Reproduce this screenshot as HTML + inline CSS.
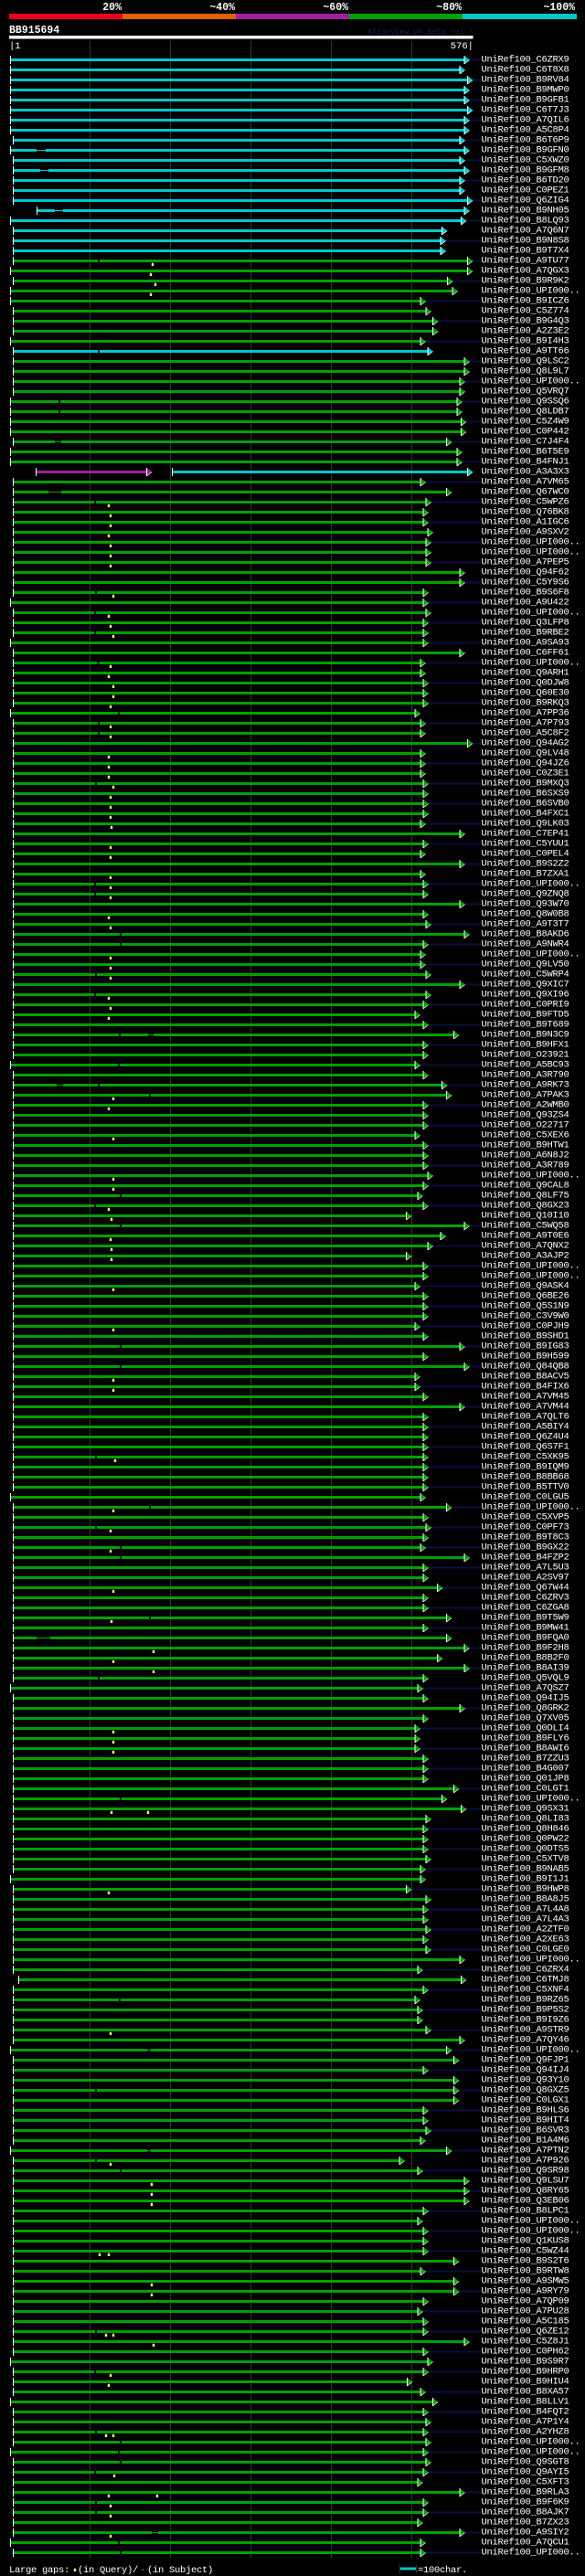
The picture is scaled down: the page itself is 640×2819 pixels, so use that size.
<!DOCTYPE html>
<html><head><meta charset="utf-8"><style>
html,body{margin:0;padding:0;background:#000}
svg{display:block}
text{font-family:"Liberation Mono","DejaVu Sans Mono",monospace}
.nm text{font-size:10.5px;letter-spacing:-0.3px;fill:#fff}
.g{stroke:#00a000;stroke-width:3;fill:none}
.c{stroke:#00c8c8;stroke-width:3;fill:none}
.p{stroke:#a020a0;stroke-width:3;fill:none}
.gl{stroke:#00a000;stroke-width:1}
.cl{stroke:#00c8c8;stroke-width:1}
</style></head><body>
<svg width="640" height="2819" viewBox="0 0 640 2819" xmlns="http://www.w3.org/2000/svg">
<defs>
<rect id="nv" x="10" y="0.5" width="516" height="2" fill="#0c0c3e"/>
<rect id="tk" x="0" y="-3" width="1" height="9" fill="#fff"/>
<g id="ag"><polygon points="0,-3 5.7,1.5 0,6" fill="#00a000"/><rect x="-0.5" y="-3" width="1" height="9" fill="#fff"/><line x1="0" y1="6" x2="5.7" y2="1.5" stroke="#fff" stroke-width="0.7"/></g>
<g id="ac"><polygon points="0,-3 5.7,1.5 0,6" fill="#00c8c8"/><rect x="-0.5" y="-3" width="1" height="9" fill="#fff"/><line x1="0" y1="6" x2="5.7" y2="1.5" stroke="#fff" stroke-width="0.7"/></g>
<g id="ap"><polygon points="0,-3 5.7,1.5 0,6" fill="#a020a0"/><rect x="-0.5" y="-3" width="1" height="9" fill="#fff"/><line x1="0" y1="6" x2="5.7" y2="1.5" stroke="#fff" stroke-width="0.7"/></g>
<g id="d"><rect width="2" height="3" fill="#000"/><rect y="1" width="2" height="1" fill="#1a1a50"/></g>
<path id="y" d="M-1.2 7h2.4v-2.4l-1.2-1.4-1.2 1.4z" fill="#ffff80"/>
</defs>
<rect width="640" height="2819" fill="#000"/>
<!-- header -->
<g font-weight="bold" font-size="11.5" fill="#fff" text-anchor="end">
<text x="133" y="11">20%</text><text x="257" y="11">~40%</text><text x="381" y="11">~60%</text><text x="505" y="11">~80%</text><text x="629" y="11">~100%</text>
</g>
<rect x="10" y="15" width="124" height="6" fill="#f00020"/>
<rect x="134" y="15" width="124" height="6" fill="#e06000"/>
<rect x="258" y="15" width="124" height="6" fill="#a020a0"/>
<rect x="382" y="15" width="124" height="6" fill="#00a000"/>
<rect x="506" y="15" width="125" height="6" fill="#00c8c8"/>
<text x="10" y="36" font-weight="bold" font-size="11.5" fill="#fff">BB915694</text>
<text x="402" y="37" font-size="8.4" fill="#1c1c5c">AlignView.pm Beta rel.7</text>
<rect x="10" y="39" width="507.5" height="3.5" fill="#fff"/>
<text x="10" y="53" font-size="10.5" fill="#fff">|1</text>
<text x="518" y="53" font-size="10.5" fill="#fff" text-anchor="end">576|</text>
<g fill="#3a3a12">
<rect x="98" y="45" width="1" height="2755"/><rect x="186" y="45" width="1" height="2755"/><rect x="274" y="45" width="1" height="2755"/><rect x="362" y="45" width="1" height="2755"/><rect x="450" y="45" width="1" height="2755"/>
</g>
<g class="nm">
<g transform="translate(0,64)"><use href="#nv"/><path class="c" d="M11 1.5H508"/><use href="#tk" x="11"/><use href="#ac" x="508"/><text x="526.5" y="3.6">UniRef100_C6ZRX9</text></g>
<g transform="translate(0,75)"><path class="c" d="M11 1.5H503"/><use href="#tk" x="11"/><use href="#ac" x="503"/><text x="526.5" y="3.6">UniRef100_C6T8X8</text></g>
<g transform="translate(0,86)"><use href="#nv"/><path class="c" d="M11 1.5H511.5"/><use href="#tk" x="11"/><use href="#ac" x="511.5"/><text x="526.5" y="3.6">UniRef100_B9RV84</text></g>
<g transform="translate(0,97)"><path class="c" d="M11 1.5H508"/><use href="#tk" x="11"/><use href="#ac" x="508"/><text x="526.5" y="3.6">UniRef100_B9MWP0</text></g>
<g transform="translate(0,108)"><use href="#nv"/><path class="c" d="M11 1.5H508"/><use href="#tk" x="11"/><use href="#ac" x="508"/><text x="526.5" y="3.6">UniRef100_B9GFB1</text></g>
<g transform="translate(0,119)"><path class="c" d="M11 1.5H511.5"/><use href="#tk" x="11"/><use href="#ac" x="511.5"/><text x="526.5" y="3.6">UniRef100_C6T7J3</text></g>
<g transform="translate(0,130)"><use href="#nv"/><path class="c" d="M11 1.5H508"/><use href="#tk" x="11"/><use href="#ac" x="508"/><text x="526.5" y="3.6">UniRef100_A7QIL6</text></g>
<g transform="translate(0,141)"><path class="c" d="M11 1.5H508"/><use href="#tk" x="11"/><use href="#ac" x="508"/><text x="526.5" y="3.6">UniRef100_A5C8P4</text></g>
<g transform="translate(0,152)"><use href="#nv"/><path class="c" d="M14 1.5H503"/><use href="#tk" x="14"/><use href="#ac" x="503"/><text x="526.5" y="3.6">UniRef100_B6T6P9</text></g>
<g transform="translate(0,163)"><path class="c" d="M11 1.5H508"/><rect x="40" width="10" height="3"/><path class="cl" d="M40 1.5H50"/><use href="#tk" x="11"/><use href="#ac" x="508"/><text x="526.5" y="3.6">UniRef100_B9GFN0</text></g>
<g transform="translate(0,174)"><use href="#nv"/><path class="c" d="M14 1.5H503"/><use href="#tk" x="14"/><use href="#ac" x="503"/><text x="526.5" y="3.6">UniRef100_C5XWZ0</text></g>
<g transform="translate(0,185)"><path class="c" d="M14 1.5H508"/><rect x="44" width="9" height="3"/><path class="cl" d="M44 1.5H53"/><use href="#tk" x="14"/><use href="#ac" x="508"/><text x="526.5" y="3.6">UniRef100_B9GFM8</text></g>
<g transform="translate(0,196)"><use href="#nv"/><path class="c" d="M14 1.5H503"/><use href="#tk" x="14"/><use href="#ac" x="503"/><text x="526.5" y="3.6">UniRef100_B6TD20</text></g>
<g transform="translate(0,207)"><path class="c" d="M14 1.5H503"/><use href="#tk" x="14"/><use href="#ac" x="503"/><text x="526.5" y="3.6">UniRef100_C0PEZ1</text></g>
<g transform="translate(0,218)"><use href="#nv"/><path class="c" d="M14 1.5H511.5"/><use href="#tk" x="14"/><use href="#ac" x="511.5"/><text x="526.5" y="3.6">UniRef100_Q6ZIG4</text></g>
<g transform="translate(0,229)"><path class="c" d="M40 1.5H508"/><rect x="60" width="9" height="3"/><path class="cl" d="M60 1.5H69"/><use href="#tk" x="40"/><use href="#ac" x="508"/><text x="526.5" y="3.6">UniRef100_B9NH05</text></g>
<g transform="translate(0,240)"><use href="#nv"/><path class="c" d="M11 1.5H504.5"/><use href="#tk" x="11"/><use href="#ac" x="504.5"/><text x="526.5" y="3.6">UniRef100_B8LQ93</text></g>
<g transform="translate(0,251)"><path class="c" d="M14 1.5H483.5"/><use href="#tk" x="14"/><use href="#ac" x="483.5"/><text x="526.5" y="3.6">UniRef100_A7Q6N7</text></g>
<g transform="translate(0,262)"><use href="#nv"/><path class="c" d="M14 1.5H482"/><use href="#tk" x="14"/><use href="#ac" x="482"/><text x="526.5" y="3.6">UniRef100_B9N8S8</text></g>
<g transform="translate(0,273)"><path class="c" d="M14 1.5H482"/><use href="#tk" x="14"/><use href="#ac" x="482"/><text x="526.5" y="3.6">UniRef100_B9T7X4</text></g>
<g transform="translate(0,284)"><use href="#nv"/><path class="g" d="M14 1.5H511.5"/><use href="#d" x="107"/><use href="#tk" x="14"/><use href="#ag" x="511.5"/><use href="#y" x="167"/><text x="526.5" y="3.6">UniRef100_A9TU77</text></g>
<g transform="translate(0,295)"><path class="g" d="M11 1.5H511.5"/><use href="#tk" x="11"/><use href="#ag" x="511.5"/><use href="#y" x="165"/><text x="526.5" y="3.6">UniRef100_A7QGX3</text></g>
<g transform="translate(0,306)"><use href="#nv"/><path class="g" d="M14 1.5H489.5"/><use href="#tk" x="14"/><use href="#ag" x="489.5"/><use href="#y" x="170"/><text x="526.5" y="3.6">UniRef100_B9R9K2</text></g>
<g transform="translate(0,317)"><path class="g" d="M11 1.5H495"/><use href="#tk" x="11"/><use href="#ag" x="495"/><use href="#y" x="165"/><text x="526.5" y="3.6">UniRef100_UPI000..</text></g>
<g transform="translate(0,328)"><use href="#nv"/><path class="g" d="M11 1.5H460"/><use href="#tk" x="11"/><use href="#ag" x="460"/><text x="526.5" y="3.6">UniRef100_B9ICZ6</text></g>
<g transform="translate(0,339)"><path class="g" d="M14 1.5H466"/><use href="#tk" x="14"/><use href="#ag" x="466"/><text x="526.5" y="3.6">UniRef100_C5Z774</text></g>
<g transform="translate(0,350)"><use href="#nv"/><path class="g" d="M14 1.5H473.5"/><use href="#tk" x="14"/><use href="#ag" x="473.5"/><text x="526.5" y="3.6">UniRef100_B9G4Q3</text></g>
<g transform="translate(0,361)"><path class="g" d="M14 1.5H473.5"/><use href="#tk" x="14"/><use href="#ag" x="473.5"/><text x="526.5" y="3.6">UniRef100_A2Z3E2</text></g>
<g transform="translate(0,372)"><use href="#nv"/><path class="g" d="M11 1.5H460"/><use href="#tk" x="11"/><use href="#ag" x="460"/><text x="526.5" y="3.6">UniRef100_B9I4H3</text></g>
<g transform="translate(0,383)"><path class="c" d="M14 1.5H468"/><use href="#d" x="107"/><use href="#tk" x="14"/><use href="#ac" x="468"/><text x="526.5" y="3.6">UniRef100_A9TT66</text></g>
<g transform="translate(0,394)"><use href="#nv"/><path class="g" d="M14 1.5H508"/><use href="#tk" x="14"/><use href="#ag" x="508"/><text x="526.5" y="3.6">UniRef100_Q9LSC2</text></g>
<g transform="translate(0,405)"><path class="g" d="M14 1.5H508"/><use href="#tk" x="14"/><use href="#ag" x="508"/><text x="526.5" y="3.6">UniRef100_Q8L9L7</text></g>
<g transform="translate(0,416)"><use href="#nv"/><path class="g" d="M14 1.5H503"/><use href="#tk" x="14"/><use href="#ag" x="503"/><text x="526.5" y="3.6">UniRef100_UPI000..</text></g>
<g transform="translate(0,427)"><path class="g" d="M14 1.5H503"/><use href="#tk" x="14"/><use href="#ag" x="503"/><text x="526.5" y="3.6">UniRef100_Q5VRQ7</text></g>
<g transform="translate(0,438)"><use href="#nv"/><path class="g" d="M11 1.5H500"/><use href="#d" x="64"/><use href="#tk" x="11"/><use href="#ag" x="500"/><text x="526.5" y="3.6">UniRef100_Q9SSQ6</text></g>
<g transform="translate(0,449)"><path class="g" d="M11 1.5H500"/><use href="#d" x="64"/><use href="#tk" x="11"/><use href="#ag" x="500"/><text x="526.5" y="3.6">UniRef100_Q8LDB7</text></g>
<g transform="translate(0,460)"><use href="#nv"/><path class="g" d="M11 1.5H504.5"/><use href="#tk" x="11"/><use href="#ag" x="504.5"/><text x="526.5" y="3.6">UniRef100_C5Z4W9</text></g>
<g transform="translate(0,471)"><path class="g" d="M11 1.5H504.5"/><use href="#tk" x="11"/><use href="#ag" x="504.5"/><text x="526.5" y="3.6">UniRef100_C0P442</text></g>
<g transform="translate(0,482)"><use href="#nv"/><path class="g" d="M14 1.5H488.5"/><rect x="60" width="7" height="3"/><path class="gl" d="M60 1.5H67"/><use href="#tk" x="14"/><use href="#ag" x="488.5"/><text x="526.5" y="3.6">UniRef100_C7J4F4</text></g>
<g transform="translate(0,493)"><path class="g" d="M11 1.5H500"/><use href="#tk" x="11"/><use href="#ag" x="500"/><text x="526.5" y="3.6">UniRef100_B6T5E9</text></g>
<g transform="translate(0,504)"><use href="#nv"/><path class="g" d="M11 1.5H500"/><use href="#tk" x="11"/><use href="#ag" x="500"/><text x="526.5" y="3.6">UniRef100_B4FNJ1</text></g>
<g transform="translate(0,515)"><path class="p" d="M39 1.5H160.5"/><use href="#tk" x="39"/><use href="#ap" x="160.5"/><path class="c" d="M188 1.5H511.5"/><use href="#tk" x="188"/><use href="#ac" x="511.5"/><text x="526.5" y="3.6">UniRef100_A3A3X3</text></g>
<g transform="translate(0,526)"><use href="#nv"/><path class="g" d="M14 1.5H460"/><use href="#tk" x="14"/><use href="#ag" x="460"/><text x="526.5" y="3.6">UniRef100_A7VM65</text></g>
<g transform="translate(0,537)"><path class="g" d="M14 1.5H488.5"/><rect x="53" width="14" height="3"/><path class="gl" d="M53 1.5H67"/><use href="#tk" x="14"/><use href="#ag" x="488.5"/><text x="526.5" y="3.6">UniRef100_Q67WC0</text></g>
<g transform="translate(0,548)"><use href="#nv"/><path class="g" d="M14 1.5H466"/><use href="#d" x="103"/><use href="#tk" x="14"/><use href="#ag" x="466"/><use href="#y" x="119"/><text x="526.5" y="3.6">UniRef100_C5WPZ6</text></g>
<g transform="translate(0,559)"><path class="g" d="M14 1.5H463"/><use href="#tk" x="14"/><use href="#ag" x="463"/><use href="#y" x="121"/><text x="526.5" y="3.6">UniRef100_Q76BK8</text></g>
<g transform="translate(0,570)"><use href="#nv"/><path class="g" d="M14 1.5H463"/><use href="#tk" x="14"/><use href="#ag" x="463"/><use href="#y" x="121"/><text x="526.5" y="3.6">UniRef100_A1IGC6</text></g>
<g transform="translate(0,581)"><path class="g" d="M14 1.5H468"/><use href="#tk" x="14"/><use href="#ag" x="468"/><use href="#y" x="119"/><text x="526.5" y="3.6">UniRef100_A9SXV2</text></g>
<g transform="translate(0,592)"><use href="#nv"/><path class="g" d="M14 1.5H466"/><use href="#tk" x="14"/><use href="#ag" x="466"/><use href="#y" x="121"/><text x="526.5" y="3.6">UniRef100_UPI000..</text></g>
<g transform="translate(0,603)"><path class="g" d="M14 1.5H466"/><use href="#tk" x="14"/><use href="#ag" x="466"/><use href="#y" x="121"/><text x="526.5" y="3.6">UniRef100_UPI000..</text></g>
<g transform="translate(0,614)"><use href="#nv"/><path class="g" d="M14 1.5H466"/><use href="#tk" x="14"/><use href="#ag" x="466"/><use href="#y" x="121"/><text x="526.5" y="3.6">UniRef100_A7PEP5</text></g>
<g transform="translate(0,625)"><path class="g" d="M14 1.5H503"/><use href="#tk" x="14"/><use href="#ag" x="503"/><text x="526.5" y="3.6">UniRef100_Q94F62</text></g>
<g transform="translate(0,636)"><use href="#nv"/><path class="g" d="M14 1.5H503"/><use href="#tk" x="14"/><use href="#ag" x="503"/><text x="526.5" y="3.6">UniRef100_C5Y9S6</text></g>
<g transform="translate(0,647)"><path class="g" d="M14 1.5H463"/><use href="#d" x="104"/><use href="#tk" x="14"/><use href="#ag" x="463"/><use href="#y" x="124"/><text x="526.5" y="3.6">UniRef100_B9S6F8</text></g>
<g transform="translate(0,658)"><use href="#nv"/><path class="g" d="M11 1.5H463"/><use href="#tk" x="11"/><use href="#ag" x="463"/><text x="526.5" y="3.6">UniRef100_A9U422</text></g>
<g transform="translate(0,669)"><path class="g" d="M14 1.5H466"/><use href="#d" x="103"/><use href="#tk" x="14"/><use href="#ag" x="466"/><use href="#y" x="119"/><text x="526.5" y="3.6">UniRef100_UPI000..</text></g>
<g transform="translate(0,680)"><use href="#nv"/><path class="g" d="M14 1.5H463"/><use href="#tk" x="14"/><use href="#ag" x="463"/><use href="#y" x="121"/><text x="526.5" y="3.6">UniRef100_Q3LFP8</text></g>
<g transform="translate(0,691)"><path class="g" d="M14 1.5H463"/><use href="#d" x="103"/><use href="#tk" x="14"/><use href="#ag" x="463"/><use href="#y" x="124"/><text x="526.5" y="3.6">UniRef100_B9RBE2</text></g>
<g transform="translate(0,702)"><use href="#nv"/><path class="g" d="M11 1.5H463"/><use href="#tk" x="11"/><use href="#ag" x="463"/><text x="526.5" y="3.6">UniRef100_A9SA93</text></g>
<g transform="translate(0,713)"><path class="g" d="M14 1.5H503"/><use href="#tk" x="14"/><use href="#ag" x="503"/><text x="526.5" y="3.6">UniRef100_C6FF61</text></g>
<g transform="translate(0,724)"><use href="#nv"/><path class="g" d="M14 1.5H460"/><rect x="106" width="3" height="3"/><path class="gl" d="M106 1.5H109"/><use href="#tk" x="14"/><use href="#ag" x="460"/><use href="#y" x="121"/><text x="526.5" y="3.6">UniRef100_UPI000..</text></g>
<g transform="translate(0,735)"><path class="g" d="M14 1.5H460"/><use href="#tk" x="14"/><use href="#ag" x="460"/><use href="#y" x="119"/><text x="526.5" y="3.6">UniRef100_Q9ARH1</text></g>
<g transform="translate(0,746)"><use href="#nv"/><path class="g" d="M14 1.5H463"/><use href="#tk" x="14"/><use href="#ag" x="463"/><use href="#y" x="124"/><text x="526.5" y="3.6">UniRef100_Q0DJW8</text></g>
<g transform="translate(0,757)"><path class="g" d="M14 1.5H463"/><use href="#tk" x="14"/><use href="#ag" x="463"/><use href="#y" x="124"/><text x="526.5" y="3.6">UniRef100_Q60E30</text></g>
<g transform="translate(0,768)"><use href="#nv"/><path class="g" d="M14 1.5H463"/><use href="#tk" x="14"/><use href="#ag" x="463"/><use href="#y" x="121"/><text x="526.5" y="3.6">UniRef100_B9RKQ3</text></g>
<g transform="translate(0,779)"><path class="g" d="M11 1.5H454"/><use href="#d" x="129"/><use href="#tk" x="11"/><use href="#ag" x="454"/><text x="526.5" y="3.6">UniRef100_A7PP36</text></g>
<g transform="translate(0,790)"><use href="#nv"/><path class="g" d="M14 1.5H460"/><use href="#d" x="107"/><use href="#tk" x="14"/><use href="#ag" x="460"/><use href="#y" x="121"/><text x="526.5" y="3.6">UniRef100_A7P793</text></g>
<g transform="translate(0,801)"><path class="g" d="M14 1.5H460"/><use href="#d" x="107"/><use href="#tk" x="14"/><use href="#ag" x="460"/><use href="#y" x="121"/><text x="526.5" y="3.6">UniRef100_A5C8F2</text></g>
<g transform="translate(0,812)"><use href="#nv"/><path class="g" d="M14 1.5H511.5"/><use href="#tk" x="14"/><use href="#ag" x="511.5"/><text x="526.5" y="3.6">UniRef100_Q94AG2</text></g>
<g transform="translate(0,823)"><path class="g" d="M14 1.5H460"/><use href="#tk" x="14"/><use href="#ag" x="460"/><use href="#y" x="119"/><text x="526.5" y="3.6">UniRef100_Q9LV48</text></g>
<g transform="translate(0,834)"><use href="#nv"/><path class="g" d="M14 1.5H460"/><use href="#tk" x="14"/><use href="#ag" x="460"/><use href="#y" x="119"/><text x="526.5" y="3.6">UniRef100_Q94JZ6</text></g>
<g transform="translate(0,845)"><path class="g" d="M14 1.5H460"/><use href="#tk" x="14"/><use href="#ag" x="460"/><use href="#y" x="119"/><text x="526.5" y="3.6">UniRef100_C0Z3E1</text></g>
<g transform="translate(0,856)"><use href="#nv"/><path class="g" d="M14 1.5H463"/><use href="#d" x="104"/><use href="#tk" x="14"/><use href="#ag" x="463"/><use href="#y" x="124"/><text x="526.5" y="3.6">UniRef100_B9MXQ3</text></g>
<g transform="translate(0,867)"><path class="g" d="M14 1.5H463"/><use href="#tk" x="14"/><use href="#ag" x="463"/><use href="#y" x="121"/><text x="526.5" y="3.6">UniRef100_B6SXS9</text></g>
<g transform="translate(0,878)"><use href="#nv"/><path class="g" d="M14 1.5H463"/><use href="#tk" x="14"/><use href="#ag" x="463"/><use href="#y" x="121"/><text x="526.5" y="3.6">UniRef100_B6SVB0</text></g>
<g transform="translate(0,889)"><path class="g" d="M14 1.5H463"/><use href="#tk" x="14"/><use href="#ag" x="463"/><use href="#y" x="121"/><text x="526.5" y="3.6">UniRef100_B4FXC1</text></g>
<g transform="translate(0,900)"><use href="#nv"/><path class="g" d="M14 1.5H460"/><use href="#tk" x="14"/><use href="#ag" x="460"/><use href="#y" x="122"/><text x="526.5" y="3.6">UniRef100_Q9LK03</text></g>
<g transform="translate(0,911)"><path class="g" d="M14 1.5H503"/><use href="#tk" x="14"/><use href="#ag" x="503"/><text x="526.5" y="3.6">UniRef100_C7EP41</text></g>
<g transform="translate(0,922)"><use href="#nv"/><path class="g" d="M14 1.5H463"/><use href="#tk" x="14"/><use href="#ag" x="463"/><use href="#y" x="121"/><text x="526.5" y="3.6">UniRef100_C5YUU1</text></g>
<g transform="translate(0,933)"><path class="g" d="M14 1.5H460"/><use href="#tk" x="14"/><use href="#ag" x="460"/><use href="#y" x="121"/><text x="526.5" y="3.6">UniRef100_C0PEL4</text></g>
<g transform="translate(0,944)"><use href="#nv"/><path class="g" d="M14 1.5H503"/><use href="#tk" x="14"/><use href="#ag" x="503"/><text x="526.5" y="3.6">UniRef100_B9S2Z2</text></g>
<g transform="translate(0,955)"><path class="g" d="M14 1.5H460"/><use href="#tk" x="14"/><use href="#ag" x="460"/><use href="#y" x="121"/><text x="526.5" y="3.6">UniRef100_B7ZXA1</text></g>
<g transform="translate(0,966)"><use href="#nv"/><path class="g" d="M14 1.5H463"/><use href="#d" x="103"/><use href="#tk" x="14"/><use href="#ag" x="463"/><use href="#y" x="121"/><text x="526.5" y="3.6">UniRef100_UPI000..</text></g>
<g transform="translate(0,977)"><path class="g" d="M14 1.5H463"/><use href="#d" x="103"/><use href="#tk" x="14"/><use href="#ag" x="463"/><use href="#y" x="121"/><text x="526.5" y="3.6">UniRef100_Q9ZNQ8</text></g>
<g transform="translate(0,988)"><use href="#nv"/><path class="g" d="M14 1.5H503"/><use href="#tk" x="14"/><use href="#ag" x="503"/><text x="526.5" y="3.6">UniRef100_Q93W70</text></g>
<g transform="translate(0,999)"><path class="g" d="M14 1.5H463"/><use href="#tk" x="14"/><use href="#ag" x="463"/><use href="#y" x="119"/><text x="526.5" y="3.6">UniRef100_Q8W0B8</text></g>
<g transform="translate(0,1010)"><use href="#nv"/><path class="g" d="M14 1.5H466"/><use href="#tk" x="14"/><use href="#ag" x="466"/><use href="#y" x="121"/><text x="526.5" y="3.6">UniRef100_A9T3T7</text></g>
<g transform="translate(0,1021)"><path class="g" d="M14 1.5H508"/><use href="#d" x="131"/><use href="#tk" x="14"/><use href="#ag" x="508"/><text x="526.5" y="3.6">UniRef100_B8AKD6</text></g>
<g transform="translate(0,1032)"><use href="#nv"/><path class="g" d="M14 1.5H463"/><use href="#d" x="131"/><use href="#tk" x="14"/><use href="#ag" x="463"/><text x="526.5" y="3.6">UniRef100_A9NWR4</text></g>
<g transform="translate(0,1043)"><path class="g" d="M14 1.5H460"/><use href="#tk" x="14"/><use href="#ag" x="460"/><use href="#y" x="121"/><text x="526.5" y="3.6">UniRef100_UPI000..</text></g>
<g transform="translate(0,1054)"><use href="#nv"/><path class="g" d="M14 1.5H460"/><use href="#tk" x="14"/><use href="#ag" x="460"/><use href="#y" x="121"/><text x="526.5" y="3.6">UniRef100_Q9LV50</text></g>
<g transform="translate(0,1065)"><path class="g" d="M14 1.5H466"/><use href="#d" x="104"/><use href="#tk" x="14"/><use href="#ag" x="466"/><use href="#y" x="121"/><text x="526.5" y="3.6">UniRef100_C5WRP4</text></g>
<g transform="translate(0,1076)"><use href="#nv"/><path class="g" d="M14 1.5H503"/><use href="#tk" x="14"/><use href="#ag" x="503"/><text x="526.5" y="3.6">UniRef100_Q9XIC7</text></g>
<g transform="translate(0,1087)"><path class="g" d="M14 1.5H466"/><use href="#d" x="103"/><use href="#tk" x="14"/><use href="#ag" x="466"/><use href="#y" x="119"/><text x="526.5" y="3.6">UniRef100_Q9XI96</text></g>
<g transform="translate(0,1098)"><use href="#nv"/><path class="g" d="M14 1.5H463"/><use href="#tk" x="14"/><use href="#ag" x="463"/><use href="#y" x="121"/><text x="526.5" y="3.6">UniRef100_C0PRI9</text></g>
<g transform="translate(0,1109)"><path class="g" d="M14 1.5H454"/><use href="#tk" x="14"/><use href="#ag" x="454"/><use href="#y" x="119"/><text x="526.5" y="3.6">UniRef100_B9FTD5</text></g>
<g transform="translate(0,1120)"><use href="#nv"/><path class="g" d="M14 1.5H463"/><use href="#tk" x="14"/><use href="#ag" x="463"/><text x="526.5" y="3.6">UniRef100_B9T689</text></g>
<g transform="translate(0,1131)"><path class="g" d="M14 1.5H496.5"/><use href="#d" x="130"/><rect x="162" width="6" height="3"/><path class="gl" d="M162 1.5H168"/><use href="#tk" x="14"/><use href="#ag" x="496.5"/><text x="526.5" y="3.6">UniRef100_B9N3C9</text></g>
<g transform="translate(0,1142)"><use href="#nv"/><path class="g" d="M14 1.5H463"/><use href="#tk" x="14"/><use href="#ag" x="463"/><text x="526.5" y="3.6">UniRef100_B9HFX1</text></g>
<g transform="translate(0,1153)"><path class="g" d="M14 1.5H463"/><use href="#tk" x="14"/><use href="#ag" x="463"/><text x="526.5" y="3.6">UniRef100_O23921</text></g>
<g transform="translate(0,1164)"><use href="#nv"/><path class="g" d="M11 1.5H454"/><use href="#d" x="129"/><use href="#tk" x="11"/><use href="#ag" x="454"/><text x="526.5" y="3.6">UniRef100_A5BC93</text></g>
<g transform="translate(0,1175)"><path class="g" d="M14 1.5H463"/><use href="#tk" x="14"/><use href="#ag" x="463"/><text x="526.5" y="3.6">UniRef100_A3R790</text></g>
<g transform="translate(0,1186)"><use href="#nv"/><path class="g" d="M14 1.5H483.5"/><rect x="62" width="7" height="3"/><path class="gl" d="M62 1.5H69"/><use href="#d" x="107"/><use href="#tk" x="14"/><use href="#ag" x="483.5"/><text x="526.5" y="3.6">UniRef100_A9RK73</text></g>
<g transform="translate(0,1197)"><path class="g" d="M14 1.5H488.5"/><use href="#d" x="163"/><use href="#tk" x="14"/><use href="#ag" x="488.5"/><use href="#y" x="124"/><text x="526.5" y="3.6">UniRef100_A7PAK3</text></g>
<g transform="translate(0,1208)"><use href="#nv"/><path class="g" d="M14 1.5H463"/><use href="#tk" x="14"/><use href="#ag" x="463"/><use href="#y" x="119"/><text x="526.5" y="3.6">UniRef100_A2WMB0</text></g>
<g transform="translate(0,1219)"><path class="g" d="M14 1.5H463"/><use href="#tk" x="14"/><use href="#ag" x="463"/><text x="526.5" y="3.6">UniRef100_Q93ZS4</text></g>
<g transform="translate(0,1230)"><use href="#nv"/><path class="g" d="M14 1.5H463"/><use href="#tk" x="14"/><use href="#ag" x="463"/><text x="526.5" y="3.6">UniRef100_O22717</text></g>
<g transform="translate(0,1241)"><path class="g" d="M14 1.5H454"/><use href="#tk" x="14"/><use href="#ag" x="454"/><use href="#y" x="124"/><text x="526.5" y="3.6">UniRef100_C5XEX6</text></g>
<g transform="translate(0,1252)"><use href="#nv"/><path class="g" d="M14 1.5H463"/><use href="#tk" x="14"/><use href="#ag" x="463"/><text x="526.5" y="3.6">UniRef100_B9HTW1</text></g>
<g transform="translate(0,1263)"><path class="g" d="M14 1.5H463"/><use href="#tk" x="14"/><use href="#ag" x="463"/><text x="526.5" y="3.6">UniRef100_A6N8J2</text></g>
<g transform="translate(0,1274)"><use href="#nv"/><path class="g" d="M14 1.5H463"/><use href="#tk" x="14"/><use href="#ag" x="463"/><text x="526.5" y="3.6">UniRef100_A3R789</text></g>
<g transform="translate(0,1285)"><path class="g" d="M14 1.5H468"/><use href="#tk" x="14"/><use href="#ag" x="468"/><use href="#y" x="124"/><text x="526.5" y="3.6">UniRef100_UPI000..</text></g>
<g transform="translate(0,1296)"><use href="#nv"/><path class="g" d="M14 1.5H463"/><use href="#tk" x="14"/><use href="#ag" x="463"/><use href="#y" x="124"/><text x="526.5" y="3.6">UniRef100_Q9CAL8</text></g>
<g transform="translate(0,1307)"><path class="g" d="M14 1.5H457"/><use href="#d" x="131"/><use href="#tk" x="14"/><use href="#ag" x="457"/><text x="526.5" y="3.6">UniRef100_Q8LF75</text></g>
<g transform="translate(0,1318)"><use href="#nv"/><path class="g" d="M14 1.5H463"/><use href="#d" x="103"/><use href="#tk" x="14"/><use href="#ag" x="463"/><use href="#y" x="119"/><text x="526.5" y="3.6">UniRef100_Q8GX23</text></g>
<g transform="translate(0,1329)"><path class="g" d="M14 1.5H444.5"/><use href="#tk" x="14"/><use href="#ag" x="444.5"/><use href="#y" x="122"/><text x="526.5" y="3.6">UniRef100_Q10I10</text></g>
<g transform="translate(0,1340)"><use href="#nv"/><path class="g" d="M14 1.5H508"/><use href="#d" x="131"/><use href="#tk" x="14"/><use href="#ag" x="508"/><text x="526.5" y="3.6">UniRef100_C5WQ58</text></g>
<g transform="translate(0,1351)"><path class="g" d="M14 1.5H482"/><use href="#tk" x="14"/><use href="#ag" x="482"/><use href="#y" x="121"/><text x="526.5" y="3.6">UniRef100_A9T0E6</text></g>
<g transform="translate(0,1362)"><use href="#nv"/><path class="g" d="M14 1.5H468"/><use href="#tk" x="14"/><use href="#ag" x="468"/><use href="#y" x="122"/><text x="526.5" y="3.6">UniRef100_A7QNX2</text></g>
<g transform="translate(0,1373)"><path class="g" d="M14 1.5H444.5"/><use href="#tk" x="14"/><use href="#ag" x="444.5"/><use href="#y" x="122"/><text x="526.5" y="3.6">UniRef100_A3AJP2</text></g>
<g transform="translate(0,1384)"><use href="#nv"/><path class="g" d="M14 1.5H463"/><use href="#tk" x="14"/><use href="#ag" x="463"/><text x="526.5" y="3.6">UniRef100_UPI000..</text></g>
<g transform="translate(0,1395)"><path class="g" d="M14 1.5H463"/><use href="#tk" x="14"/><use href="#ag" x="463"/><text x="526.5" y="3.6">UniRef100_UPI000..</text></g>
<g transform="translate(0,1406)"><use href="#nv"/><path class="g" d="M14 1.5H454"/><use href="#tk" x="14"/><use href="#ag" x="454"/><use href="#y" x="124"/><text x="526.5" y="3.6">UniRef100_Q9ASK4</text></g>
<g transform="translate(0,1417)"><path class="g" d="M14 1.5H463"/><use href="#tk" x="14"/><use href="#ag" x="463"/><text x="526.5" y="3.6">UniRef100_Q6BE26</text></g>
<g transform="translate(0,1428)"><use href="#nv"/><path class="g" d="M14 1.5H463"/><use href="#tk" x="14"/><use href="#ag" x="463"/><text x="526.5" y="3.6">UniRef100_Q5S1N9</text></g>
<g transform="translate(0,1439)"><path class="g" d="M14 1.5H463"/><use href="#tk" x="14"/><use href="#ag" x="463"/><text x="526.5" y="3.6">UniRef100_C3V9W0</text></g>
<g transform="translate(0,1450)"><use href="#nv"/><path class="g" d="M14 1.5H454"/><use href="#tk" x="14"/><use href="#ag" x="454"/><use href="#y" x="124"/><text x="526.5" y="3.6">UniRef100_C0PJH9</text></g>
<g transform="translate(0,1461)"><path class="g" d="M14 1.5H463"/><use href="#tk" x="14"/><use href="#ag" x="463"/><text x="526.5" y="3.6">UniRef100_B9SHD1</text></g>
<g transform="translate(0,1472)"><use href="#nv"/><path class="g" d="M14 1.5H503"/><use href="#d" x="131"/><use href="#tk" x="14"/><use href="#ag" x="503"/><text x="526.5" y="3.6">UniRef100_B9IG83</text></g>
<g transform="translate(0,1483)"><path class="g" d="M14 1.5H463"/><use href="#tk" x="14"/><use href="#ag" x="463"/><text x="526.5" y="3.6">UniRef100_B9H599</text></g>
<g transform="translate(0,1494)"><use href="#nv"/><path class="g" d="M14 1.5H508"/><use href="#d" x="131"/><use href="#tk" x="14"/><use href="#ag" x="508"/><text x="526.5" y="3.6">UniRef100_Q84QB8</text></g>
<g transform="translate(0,1505)"><path class="g" d="M14 1.5H454"/><use href="#tk" x="14"/><use href="#ag" x="454"/><use href="#y" x="124"/><text x="526.5" y="3.6">UniRef100_B8ACV5</text></g>
<g transform="translate(0,1516)"><use href="#nv"/><path class="g" d="M14 1.5H454"/><use href="#tk" x="14"/><use href="#ag" x="454"/><use href="#y" x="124"/><text x="526.5" y="3.6">UniRef100_B4FIX6</text></g>
<g transform="translate(0,1527)"><path class="g" d="M14 1.5H463"/><use href="#tk" x="14"/><use href="#ag" x="463"/><text x="526.5" y="3.6">UniRef100_A7VM45</text></g>
<g transform="translate(0,1538)"><use href="#nv"/><path class="g" d="M14 1.5H503"/><use href="#tk" x="14"/><use href="#ag" x="503"/><text x="526.5" y="3.6">UniRef100_A7VM44</text></g>
<g transform="translate(0,1549)"><path class="g" d="M14 1.5H463"/><use href="#tk" x="14"/><use href="#ag" x="463"/><text x="526.5" y="3.6">UniRef100_A7QLT6</text></g>
<g transform="translate(0,1560)"><use href="#nv"/><path class="g" d="M14 1.5H463"/><use href="#tk" x="14"/><use href="#ag" x="463"/><text x="526.5" y="3.6">UniRef100_A5BIY4</text></g>
<g transform="translate(0,1571)"><path class="g" d="M14 1.5H463"/><use href="#tk" x="14"/><use href="#ag" x="463"/><text x="526.5" y="3.6">UniRef100_Q6Z4U4</text></g>
<g transform="translate(0,1582)"><use href="#nv"/><path class="g" d="M14 1.5H463"/><use href="#tk" x="14"/><use href="#ag" x="463"/><text x="526.5" y="3.6">UniRef100_Q6S7F1</text></g>
<g transform="translate(0,1593)"><path class="g" d="M14 1.5H463"/><use href="#d" x="104"/><use href="#tk" x="14"/><use href="#ag" x="463"/><use href="#y" x="126"/><text x="526.5" y="3.6">UniRef100_C5XK95</text></g>
<g transform="translate(0,1604)"><use href="#nv"/><path class="g" d="M14 1.5H463"/><use href="#tk" x="14"/><use href="#ag" x="463"/><text x="526.5" y="3.6">UniRef100_B9IQM9</text></g>
<g transform="translate(0,1615)"><path class="g" d="M14 1.5H463"/><use href="#tk" x="14"/><use href="#ag" x="463"/><text x="526.5" y="3.6">UniRef100_B8BB68</text></g>
<g transform="translate(0,1626)"><use href="#nv"/><path class="g" d="M14 1.5H463"/><use href="#tk" x="14"/><use href="#ag" x="463"/><text x="526.5" y="3.6">UniRef100_B5TTV0</text></g>
<g transform="translate(0,1637)"><path class="g" d="M11 1.5H460"/><use href="#tk" x="11"/><use href="#ag" x="460"/><text x="526.5" y="3.6">UniRef100_C0LGU5</text></g>
<g transform="translate(0,1648)"><use href="#nv"/><path class="g" d="M14 1.5H488.5"/><use href="#d" x="163"/><use href="#tk" x="14"/><use href="#ag" x="488.5"/><use href="#y" x="124"/><text x="526.5" y="3.6">UniRef100_UPI000..</text></g>
<g transform="translate(0,1659)"><path class="g" d="M14 1.5H463"/><use href="#tk" x="14"/><use href="#ag" x="463"/><text x="526.5" y="3.6">UniRef100_C5XVP5</text></g>
<g transform="translate(0,1670)"><use href="#nv"/><path class="g" d="M14 1.5H466"/><use href="#d" x="104"/><use href="#tk" x="14"/><use href="#ag" x="466"/><use href="#y" x="121"/><text x="526.5" y="3.6">UniRef100_C0PF73</text></g>
<g transform="translate(0,1681)"><path class="g" d="M14 1.5H463"/><use href="#tk" x="14"/><use href="#ag" x="463"/><text x="526.5" y="3.6">UniRef100_B9T8C3</text></g>
<g transform="translate(0,1692)"><use href="#nv"/><path class="g" d="M14 1.5H460"/><use href="#d" x="131"/><use href="#tk" x="14"/><use href="#ag" x="460"/><use href="#y" x="121"/><text x="526.5" y="3.6">UniRef100_B9GX22</text></g>
<g transform="translate(0,1703)"><path class="g" d="M14 1.5H508"/><use href="#d" x="131"/><use href="#tk" x="14"/><use href="#ag" x="508"/><text x="526.5" y="3.6">UniRef100_B4FZP2</text></g>
<g transform="translate(0,1714)"><use href="#nv"/><path class="g" d="M14 1.5H463"/><use href="#tk" x="14"/><use href="#ag" x="463"/><text x="526.5" y="3.6">UniRef100_A7L5U3</text></g>
<g transform="translate(0,1725)"><path class="g" d="M14 1.5H463"/><use href="#tk" x="14"/><use href="#ag" x="463"/><text x="526.5" y="3.6">UniRef100_A2SV97</text></g>
<g transform="translate(0,1736)"><use href="#nv"/><path class="g" d="M14 1.5H478.5"/><use href="#tk" x="14"/><use href="#ag" x="478.5"/><use href="#y" x="124"/><text x="526.5" y="3.6">UniRef100_Q67W44</text></g>
<g transform="translate(0,1747)"><path class="g" d="M14 1.5H463"/><use href="#tk" x="14"/><use href="#ag" x="463"/><text x="526.5" y="3.6">UniRef100_C6ZRV3</text></g>
<g transform="translate(0,1758)"><use href="#nv"/><path class="g" d="M14 1.5H463"/><use href="#tk" x="14"/><use href="#ag" x="463"/><text x="526.5" y="3.6">UniRef100_C6ZGA8</text></g>
<g transform="translate(0,1769)"><path class="g" d="M14 1.5H488.5"/><use href="#d" x="163"/><use href="#tk" x="14"/><use href="#ag" x="488.5"/><use href="#y" x="122"/><text x="526.5" y="3.6">UniRef100_B9T5W9</text></g>
<g transform="translate(0,1780)"><use href="#nv"/><path class="g" d="M14 1.5H463"/><use href="#tk" x="14"/><use href="#ag" x="463"/><text x="526.5" y="3.6">UniRef100_B9MW41</text></g>
<g transform="translate(0,1791)"><path class="g" d="M14 1.5H488.5"/><rect x="40" width="15" height="3"/><path class="gl" d="M40 1.5H55"/><use href="#tk" x="14"/><use href="#ag" x="488.5"/><text x="526.5" y="3.6">UniRef100_B9FQA0</text></g>
<g transform="translate(0,1802)"><use href="#nv"/><path class="g" d="M14 1.5H508"/><use href="#tk" x="14"/><use href="#ag" x="508"/><use href="#y" x="168"/><text x="526.5" y="3.6">UniRef100_B9F2H8</text></g>
<g transform="translate(0,1813)"><path class="g" d="M14 1.5H478.5"/><use href="#tk" x="14"/><use href="#ag" x="478.5"/><use href="#y" x="124"/><text x="526.5" y="3.6">UniRef100_B8B2F0</text></g>
<g transform="translate(0,1824)"><use href="#nv"/><path class="g" d="M14 1.5H508"/><use href="#tk" x="14"/><use href="#ag" x="508"/><use href="#y" x="168"/><text x="526.5" y="3.6">UniRef100_B8AI39</text></g>
<g transform="translate(0,1835)"><path class="g" d="M14 1.5H463"/><use href="#d" x="107"/><use href="#tk" x="14"/><use href="#ag" x="463"/><text x="526.5" y="3.6">UniRef100_Q5VQL9</text></g>
<g transform="translate(0,1846)"><use href="#nv"/><path class="g" d="M11 1.5H457"/><use href="#tk" x="11"/><use href="#ag" x="457"/><text x="526.5" y="3.6">UniRef100_A7QSZ7</text></g>
<g transform="translate(0,1857)"><path class="g" d="M14 1.5H463"/><use href="#tk" x="14"/><use href="#ag" x="463"/><text x="526.5" y="3.6">UniRef100_Q94IJ5</text></g>
<g transform="translate(0,1868)"><use href="#nv"/><path class="g" d="M14 1.5H503"/><use href="#tk" x="14"/><use href="#ag" x="503"/><text x="526.5" y="3.6">UniRef100_Q8GRK2</text></g>
<g transform="translate(0,1879)"><path class="g" d="M14 1.5H463"/><use href="#tk" x="14"/><use href="#ag" x="463"/><text x="526.5" y="3.6">UniRef100_Q7XV05</text></g>
<g transform="translate(0,1890)"><use href="#nv"/><path class="g" d="M14 1.5H454"/><use href="#tk" x="14"/><use href="#ag" x="454"/><use href="#y" x="124"/><text x="526.5" y="3.6">UniRef100_Q0DLI4</text></g>
<g transform="translate(0,1901)"><path class="g" d="M14 1.5H454"/><use href="#tk" x="14"/><use href="#ag" x="454"/><use href="#y" x="124"/><text x="526.5" y="3.6">UniRef100_B9FLY6</text></g>
<g transform="translate(0,1912)"><use href="#nv"/><path class="g" d="M14 1.5H454"/><use href="#tk" x="14"/><use href="#ag" x="454"/><use href="#y" x="124"/><text x="526.5" y="3.6">UniRef100_B8AWI6</text></g>
<g transform="translate(0,1923)"><path class="g" d="M14 1.5H463"/><use href="#tk" x="14"/><use href="#ag" x="463"/><text x="526.5" y="3.6">UniRef100_B7ZZU3</text></g>
<g transform="translate(0,1934)"><use href="#nv"/><path class="g" d="M14 1.5H463"/><use href="#tk" x="14"/><use href="#ag" x="463"/><text x="526.5" y="3.6">UniRef100_B4G007</text></g>
<g transform="translate(0,1945)"><path class="g" d="M14 1.5H463"/><use href="#tk" x="14"/><use href="#ag" x="463"/><text x="526.5" y="3.6">UniRef100_Q01JP8</text></g>
<g transform="translate(0,1956)"><use href="#nv"/><path class="g" d="M14 1.5H496.5"/><use href="#tk" x="14"/><use href="#ag" x="496.5"/><text x="526.5" y="3.6">UniRef100_C0LGT1</text></g>
<g transform="translate(0,1967)"><path class="g" d="M14 1.5H483.5"/><use href="#d" x="131"/><use href="#tk" x="14"/><use href="#ag" x="483.5"/><text x="526.5" y="3.6">UniRef100_UPI000..</text></g>
<g transform="translate(0,1978)"><use href="#nv"/><path class="g" d="M14 1.5H504.5"/><use href="#tk" x="14"/><use href="#ag" x="504.5"/><use href="#y" x="122"/><use href="#y" x="162"/><text x="526.5" y="3.6">UniRef100_Q9SX31</text></g>
<g transform="translate(0,1989)"><path class="g" d="M14 1.5H466"/><use href="#tk" x="14"/><use href="#ag" x="466"/><text x="526.5" y="3.6">UniRef100_Q8LI83</text></g>
<g transform="translate(0,2000)"><use href="#nv"/><path class="g" d="M14 1.5H463"/><use href="#tk" x="14"/><use href="#ag" x="463"/><text x="526.5" y="3.6">UniRef100_Q8H846</text></g>
<g transform="translate(0,2011)"><path class="g" d="M14 1.5H463"/><use href="#tk" x="14"/><use href="#ag" x="463"/><text x="526.5" y="3.6">UniRef100_Q0PW22</text></g>
<g transform="translate(0,2022)"><use href="#nv"/><path class="g" d="M14 1.5H463"/><use href="#tk" x="14"/><use href="#ag" x="463"/><text x="526.5" y="3.6">UniRef100_Q0DTS5</text></g>
<g transform="translate(0,2033)"><path class="g" d="M14 1.5H466"/><use href="#tk" x="14"/><use href="#ag" x="466"/><text x="526.5" y="3.6">UniRef100_C5XTV8</text></g>
<g transform="translate(0,2044)"><use href="#nv"/><path class="g" d="M14 1.5H460"/><use href="#tk" x="14"/><use href="#ag" x="460"/><text x="526.5" y="3.6">UniRef100_B9NAB5</text></g>
<g transform="translate(0,2055)"><path class="g" d="M11 1.5H460"/><use href="#tk" x="11"/><use href="#ag" x="460"/><text x="526.5" y="3.6">UniRef100_B9I1J1</text></g>
<g transform="translate(0,2066)"><use href="#nv"/><path class="g" d="M14 1.5H444.5"/><use href="#tk" x="14"/><use href="#ag" x="444.5"/><use href="#y" x="119"/><text x="526.5" y="3.6">UniRef100_B9HWP8</text></g>
<g transform="translate(0,2077)"><path class="g" d="M14 1.5H466"/><use href="#tk" x="14"/><use href="#ag" x="466"/><text x="526.5" y="3.6">UniRef100_B8A8J5</text></g>
<g transform="translate(0,2088)"><use href="#nv"/><path class="g" d="M14 1.5H463"/><use href="#tk" x="14"/><use href="#ag" x="463"/><text x="526.5" y="3.6">UniRef100_A7L4A8</text></g>
<g transform="translate(0,2099)"><path class="g" d="M14 1.5H463"/><use href="#tk" x="14"/><use href="#ag" x="463"/><text x="526.5" y="3.6">UniRef100_A7L4A3</text></g>
<g transform="translate(0,2110)"><use href="#nv"/><path class="g" d="M14 1.5H466"/><use href="#tk" x="14"/><use href="#ag" x="466"/><text x="526.5" y="3.6">UniRef100_A2ZTF0</text></g>
<g transform="translate(0,2121)"><path class="g" d="M14 1.5H463"/><use href="#tk" x="14"/><use href="#ag" x="463"/><text x="526.5" y="3.6">UniRef100_A2XE63</text></g>
<g transform="translate(0,2132)"><use href="#nv"/><path class="g" d="M14 1.5H466"/><use href="#tk" x="14"/><use href="#ag" x="466"/><text x="526.5" y="3.6">UniRef100_C0LGE0</text></g>
<g transform="translate(0,2143)"><path class="g" d="M14 1.5H503"/><use href="#tk" x="14"/><use href="#ag" x="503"/><text x="526.5" y="3.6">UniRef100_UPI000..</text></g>
<g transform="translate(0,2154)"><use href="#nv"/><path class="g" d="M14 1.5H457"/><use href="#tk" x="14"/><use href="#ag" x="457"/><text x="526.5" y="3.6">UniRef100_C6ZRX4</text></g>
<g transform="translate(0,2165)"><path class="g" d="M20 1.5H504.5"/><use href="#tk" x="20"/><use href="#ag" x="504.5"/><text x="526.5" y="3.6">UniRef100_C6TMJ8</text></g>
<g transform="translate(0,2176)"><use href="#nv"/><path class="g" d="M14 1.5H463"/><use href="#tk" x="14"/><use href="#ag" x="463"/><text x="526.5" y="3.6">UniRef100_C5XNF4</text></g>
<g transform="translate(0,2187)"><path class="g" d="M14 1.5H454"/><use href="#d" x="130"/><use href="#tk" x="14"/><use href="#ag" x="454"/><text x="526.5" y="3.6">UniRef100_B9RZ65</text></g>
<g transform="translate(0,2198)"><use href="#nv"/><path class="g" d="M14 1.5H457"/><use href="#tk" x="14"/><use href="#ag" x="457"/><text x="526.5" y="3.6">UniRef100_B9P5S2</text></g>
<g transform="translate(0,2209)"><path class="g" d="M14 1.5H457"/><use href="#tk" x="14"/><use href="#ag" x="457"/><text x="526.5" y="3.6">UniRef100_B9I9Z6</text></g>
<g transform="translate(0,2220)"><use href="#nv"/><path class="g" d="M14 1.5H466"/><use href="#tk" x="14"/><use href="#ag" x="466"/><use href="#y" x="121"/><text x="526.5" y="3.6">UniRef100_A9STR9</text></g>
<g transform="translate(0,2231)"><path class="g" d="M14 1.5H503"/><use href="#tk" x="14"/><use href="#ag" x="503"/><text x="526.5" y="3.6">UniRef100_A7QY46</text></g>
<g transform="translate(0,2242)"><use href="#nv"/><path class="g" d="M11 1.5H488.5"/><rect x="161" width="4" height="3"/><path class="gl" d="M161 1.5H165"/><use href="#tk" x="11"/><use href="#ag" x="488.5"/><text x="526.5" y="3.6">UniRef100_UPI000..</text></g>
<g transform="translate(0,2253)"><path class="g" d="M14 1.5H496.5"/><use href="#tk" x="14"/><use href="#ag" x="496.5"/><text x="526.5" y="3.6">UniRef100_Q9FJP1</text></g>
<g transform="translate(0,2264)"><use href="#nv"/><path class="g" d="M14 1.5H463"/><use href="#tk" x="14"/><use href="#ag" x="463"/><text x="526.5" y="3.6">UniRef100_Q94IJ4</text></g>
<g transform="translate(0,2275)"><path class="g" d="M14 1.5H496.5"/><use href="#tk" x="14"/><use href="#ag" x="496.5"/><text x="526.5" y="3.6">UniRef100_Q93Y10</text></g>
<g transform="translate(0,2286)"><use href="#nv"/><path class="g" d="M14 1.5H496.5"/><use href="#d" x="104"/><use href="#tk" x="14"/><use href="#ag" x="496.5"/><text x="526.5" y="3.6">UniRef100_Q8GXZ5</text></g>
<g transform="translate(0,2297)"><path class="g" d="M14 1.5H496.5"/><use href="#tk" x="14"/><use href="#ag" x="496.5"/><text x="526.5" y="3.6">UniRef100_C0LGX1</text></g>
<g transform="translate(0,2308)"><use href="#nv"/><path class="g" d="M14 1.5H463"/><use href="#tk" x="14"/><use href="#ag" x="463"/><text x="526.5" y="3.6">UniRef100_B9HLS6</text></g>
<g transform="translate(0,2319)"><path class="g" d="M14 1.5H463"/><use href="#tk" x="14"/><use href="#ag" x="463"/><text x="526.5" y="3.6">UniRef100_B9HIT4</text></g>
<g transform="translate(0,2330)"><use href="#nv"/><path class="g" d="M14 1.5H466"/><use href="#tk" x="14"/><use href="#ag" x="466"/><text x="526.5" y="3.6">UniRef100_B6SVR3</text></g>
<g transform="translate(0,2341)"><path class="g" d="M14 1.5H460"/><use href="#tk" x="14"/><use href="#ag" x="460"/><text x="526.5" y="3.6">UniRef100_B1A4M6</text></g>
<g transform="translate(0,2352)"><use href="#nv"/><path class="g" d="M11 1.5H488.5"/><rect x="161" width="4" height="3"/><path class="gl" d="M161 1.5H165"/><use href="#tk" x="11"/><use href="#ag" x="488.5"/><text x="526.5" y="3.6">UniRef100_A7PTN2</text></g>
<g transform="translate(0,2363)"><path class="g" d="M14 1.5H437"/><use href="#d" x="104"/><use href="#tk" x="14"/><use href="#ag" x="437"/><use href="#y" x="121"/><text x="526.5" y="3.6">UniRef100_A7P926</text></g>
<g transform="translate(0,2374)"><use href="#nv"/><path class="g" d="M14 1.5H457"/><use href="#d" x="131"/><use href="#tk" x="14"/><use href="#ag" x="457"/><text x="526.5" y="3.6">UniRef100_Q9SR98</text></g>
<g transform="translate(0,2385)"><path class="g" d="M14 1.5H508"/><use href="#tk" x="14"/><use href="#ag" x="508"/><use href="#y" x="166"/><text x="526.5" y="3.6">UniRef100_Q9LSU7</text></g>
<g transform="translate(0,2396)"><use href="#nv"/><path class="g" d="M14 1.5H508"/><use href="#tk" x="14"/><use href="#ag" x="508"/><use href="#y" x="166"/><text x="526.5" y="3.6">UniRef100_Q8RY65</text></g>
<g transform="translate(0,2407)"><path class="g" d="M14 1.5H508"/><use href="#tk" x="14"/><use href="#ag" x="508"/><use href="#y" x="166"/><text x="526.5" y="3.6">UniRef100_Q3EB06</text></g>
<g transform="translate(0,2418)"><use href="#nv"/><path class="g" d="M14 1.5H463"/><use href="#tk" x="14"/><use href="#ag" x="463"/><text x="526.5" y="3.6">UniRef100_B8LPC1</text></g>
<g transform="translate(0,2429)"><path class="g" d="M14 1.5H457"/><use href="#tk" x="14"/><use href="#ag" x="457"/><text x="526.5" y="3.6">UniRef100_UPI000..</text></g>
<g transform="translate(0,2440)"><use href="#nv"/><path class="g" d="M14 1.5H463"/><use href="#tk" x="14"/><use href="#ag" x="463"/><text x="526.5" y="3.6">UniRef100_UPI000..</text></g>
<g transform="translate(0,2451)"><path class="g" d="M14 1.5H463"/><use href="#tk" x="14"/><use href="#ag" x="463"/><text x="526.5" y="3.6">UniRef100_Q1KUS8</text></g>
<g transform="translate(0,2462)"><use href="#nv"/><path class="g" d="M14 1.5H463"/><use href="#tk" x="14"/><use href="#ag" x="463"/><use href="#y" x="109"/><use href="#y" x="119"/><text x="526.5" y="3.6">UniRef100_C5WZ44</text></g>
<g transform="translate(0,2473)"><path class="g" d="M14 1.5H496.5"/><use href="#tk" x="14"/><use href="#ag" x="496.5"/><text x="526.5" y="3.6">UniRef100_B9S2T6</text></g>
<g transform="translate(0,2484)"><use href="#nv"/><path class="g" d="M14 1.5H460"/><use href="#tk" x="14"/><use href="#ag" x="460"/><text x="526.5" y="3.6">UniRef100_B9RTW8</text></g>
<g transform="translate(0,2495)"><path class="g" d="M14 1.5H496.5"/><use href="#tk" x="14"/><use href="#ag" x="496.5"/><use href="#y" x="166"/><text x="526.5" y="3.6">UniRef100_A9SMW5</text></g>
<g transform="translate(0,2506)"><use href="#nv"/><path class="g" d="M14 1.5H496.5"/><use href="#tk" x="14"/><use href="#ag" x="496.5"/><use href="#y" x="166"/><text x="526.5" y="3.6">UniRef100_A9RY79</text></g>
<g transform="translate(0,2517)"><path class="g" d="M14 1.5H463"/><use href="#tk" x="14"/><use href="#ag" x="463"/><text x="526.5" y="3.6">UniRef100_A7QP09</text></g>
<g transform="translate(0,2528)"><use href="#nv"/><path class="g" d="M14 1.5H457"/><use href="#tk" x="14"/><use href="#ag" x="457"/><text x="526.5" y="3.6">UniRef100_A7PU28</text></g>
<g transform="translate(0,2539)"><path class="g" d="M14 1.5H463"/><use href="#tk" x="14"/><use href="#ag" x="463"/><text x="526.5" y="3.6">UniRef100_A5C185</text></g>
<g transform="translate(0,2550)"><use href="#nv"/><path class="g" d="M14 1.5H463"/><use href="#d" x="104"/><use href="#tk" x="14"/><use href="#ag" x="463"/><use href="#y" x="116"/><use href="#y" x="124"/><text x="526.5" y="3.6">UniRef100_Q6ZE12</text></g>
<g transform="translate(0,2561)"><path class="g" d="M14 1.5H508"/><use href="#tk" x="14"/><use href="#ag" x="508"/><use href="#y" x="168"/><text x="526.5" y="3.6">UniRef100_C5Z8J1</text></g>
<g transform="translate(0,2572)"><use href="#nv"/><path class="g" d="M14 1.5H463"/><use href="#tk" x="14"/><use href="#ag" x="463"/><text x="526.5" y="3.6">UniRef100_C0PH62</text></g>
<g transform="translate(0,2583)"><path class="g" d="M11 1.5H468"/><use href="#tk" x="11"/><use href="#ag" x="468"/><text x="526.5" y="3.6">UniRef100_B9S9R7</text></g>
<g transform="translate(0,2594)"><use href="#nv"/><path class="g" d="M14 1.5H463"/><use href="#d" x="103"/><use href="#tk" x="14"/><use href="#ag" x="463"/><use href="#y" x="121"/><text x="526.5" y="3.6">UniRef100_B9HRP0</text></g>
<g transform="translate(0,2605)"><path class="g" d="M14 1.5H445.5"/><use href="#tk" x="14"/><use href="#ag" x="445.5"/><use href="#y" x="119"/><text x="526.5" y="3.6">UniRef100_B9HIU4</text></g>
<g transform="translate(0,2616)"><use href="#nv"/><path class="g" d="M14 1.5H460"/><use href="#tk" x="14"/><use href="#ag" x="460"/><text x="526.5" y="3.6">UniRef100_B8XA57</text></g>
<g transform="translate(0,2627)"><path class="g" d="M11 1.5H473.5"/><use href="#tk" x="11"/><use href="#ag" x="473.5"/><text x="526.5" y="3.6">UniRef100_B8LLV1</text></g>
<g transform="translate(0,2638)"><use href="#nv"/><path class="g" d="M14 1.5H463"/><use href="#tk" x="14"/><use href="#ag" x="463"/><text x="526.5" y="3.6">UniRef100_B4FQT2</text></g>
<g transform="translate(0,2649)"><path class="g" d="M14 1.5H466"/><use href="#tk" x="14"/><use href="#ag" x="466"/><text x="526.5" y="3.6">UniRef100_A7P1Y4</text></g>
<g transform="translate(0,2660)"><use href="#nv"/><path class="g" d="M14 1.5H463"/><use href="#d" x="104"/><use href="#tk" x="14"/><use href="#ag" x="463"/><use href="#y" x="116"/><use href="#y" x="124"/><text x="526.5" y="3.6">UniRef100_A2YHZ8</text></g>
<g transform="translate(0,2671)"><path class="g" d="M14 1.5H466"/><use href="#d" x="131"/><use href="#tk" x="14"/><use href="#ag" x="466"/><text x="526.5" y="3.6">UniRef100_UPI000..</text></g>
<g transform="translate(0,2682)"><use href="#nv"/><path class="g" d="M11 1.5H463"/><use href="#d" x="129"/><use href="#tk" x="11"/><use href="#ag" x="463"/><text x="526.5" y="3.6">UniRef100_UPI000..</text></g>
<g transform="translate(0,2693)"><path class="g" d="M14 1.5H466"/><use href="#d" x="131"/><use href="#tk" x="14"/><use href="#ag" x="466"/><text x="526.5" y="3.6">UniRef100_Q9SGT8</text></g>
<g transform="translate(0,2704)"><use href="#nv"/><path class="g" d="M14 1.5H463"/><use href="#d" x="103"/><use href="#tk" x="14"/><use href="#ag" x="463"/><use href="#y" x="125"/><text x="526.5" y="3.6">UniRef100_Q9AYI5</text></g>
<g transform="translate(0,2715)"><path class="g" d="M14 1.5H457"/><use href="#tk" x="14"/><use href="#ag" x="457"/><text x="526.5" y="3.6">UniRef100_C5XFT3</text></g>
<g transform="translate(0,2726)"><use href="#nv"/><path class="g" d="M14 1.5H503"/><use href="#tk" x="14"/><use href="#ag" x="503"/><use href="#y" x="119"/><use href="#y" x="172"/><text x="526.5" y="3.6">UniRef100_B9RLA3</text></g>
<g transform="translate(0,2737)"><path class="g" d="M14 1.5H463"/><use href="#d" x="104"/><use href="#tk" x="14"/><use href="#ag" x="463"/><use href="#y" x="121"/><text x="526.5" y="3.6">UniRef100_B9F6K9</text></g>
<g transform="translate(0,2748)"><use href="#nv"/><path class="g" d="M14 1.5H463"/><use href="#d" x="104"/><use href="#tk" x="14"/><use href="#ag" x="463"/><use href="#y" x="121"/><text x="526.5" y="3.6">UniRef100_B8AJK7</text></g>
<g transform="translate(0,2759)"><path class="g" d="M14 1.5H457"/><use href="#tk" x="14"/><use href="#ag" x="457"/><text x="526.5" y="3.6">UniRef100_B7ZX23</text></g>
<g transform="translate(0,2770)"><use href="#nv"/><path class="g" d="M14 1.5H503"/><rect x="166" width="7" height="3"/><path class="gl" d="M166 1.5H173"/><use href="#tk" x="14"/><use href="#ag" x="503"/><use href="#y" x="121"/><text x="526.5" y="3.6">UniRef100_A9SIY2</text></g>
<g transform="translate(0,2781)"><path class="g" d="M11 1.5H460"/><use href="#d" x="129"/><use href="#tk" x="11"/><use href="#ag" x="460"/><text x="526.5" y="3.6">UniRef100_A7QCU1</text></g>
<g transform="translate(0,2792)"><use href="#nv"/><path class="g" d="M14 1.5H460"/><use href="#d" x="131"/><use href="#tk" x="14"/><use href="#ag" x="460"/><text x="526.5" y="3.6">UniRef100_UPI000..</text></g>
</g>
<!-- footer legend -->
<g font-size="10.5" fill="#fff" style="letter-spacing:-0.3px">
<text x="10" y="2815">Large gaps:</text>
<use href="#y" x="82" y="2807"/>
<text x="85" y="2815">(in Query)/</text>
<text x="153" y="2815" fill="#00c8c8">-</text>
<text x="161" y="2815">(in Subject)</text>
<rect x="437" y="2807" width="1" height="9" fill="#3a3a12"/>
<rect x="438" y="2809.5" width="17" height="3" fill="#00c8c8"/>
<rect x="455" y="2807" width="1" height="9" fill="#3a3a12"/>
<text x="457" y="2815">=100char.</text>
</g>
</svg>
</body></html>
